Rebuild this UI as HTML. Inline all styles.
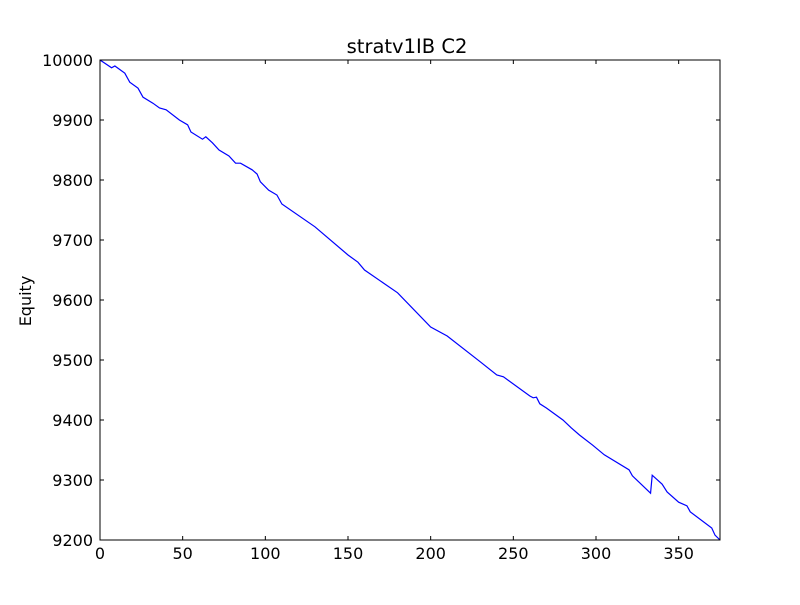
<!DOCTYPE html>
<html><head><meta charset="utf-8"><style>
body{margin:0;background:#fff}
svg text{font-family:"DejaVu Sans","Liberation Sans",sans-serif;font-size:16px;fill:#000}
</style></head><body>
<svg id="chart" width="800" height="600">
<rect width="800" height="600" fill="#fff"/>
<text x="407" y="53" text-anchor="middle" style="font-size:19.5px">stratv1IB C2</text>
<text transform="translate(31,301) rotate(-90)" text-anchor="middle">Equity</text>
<g id="ticks"></g>
<polyline id="line" fill="none" stroke="#0000ff" stroke-width="1.2"/>
<rect x="100" y="60" width="620" height="480" fill="none" stroke="#000" stroke-width="1"/>
</svg>
<script>
const xs=[0,7,9,15,18,23,26,32,36,40,48,53,55,62,64,68,72,78,82,85,92,95,97,102,107,110,130,150,156,160,180,200,210,230,240,244,260,262,264,266,270,280,285,290,298,305,320,322,333,334,340,343,350,355,357,370,372,375];
const equity=[10000,9987,9990,9978,9963,9953,9938,9928,9920,9917,9900,9892,9880,9868,9872,9862,9850,9840,9828,9828,9817,9810,9797,9783,9775,9760,9722,9675,9663,9650,9612,9555,9540,9497,9475,9472,9440,9437,9438,9427,9420,9400,9387,9375,9358,9342,9317,9307,9278,9308,9293,9280,9263,9257,9247,9220,9208,9200];
const xTicks=[0,50,100,150,200,250,300,350];
const yTicks=[9200,9300,9400,9500,9600,9700,9800,9900,10000];
const X=v=>100+v/375*620, Y=v=>540-(v-9200)/800*480;
const ns='http://www.w3.org/2000/svg', g=document.getElementById('ticks');
function mk(t,a){const e=document.createElementNS(ns,t);for(const k in a)e.setAttribute(k,a[k]);g.appendChild(e);return e;}
xTicks.forEach(v=>{const x=X(v);
 mk('line',{x1:x,x2:x,y1:540,y2:536,stroke:'#000'});mk('line',{x1:x,x2:x,y1:60,y2:64,stroke:'#000'});
 const t=mk('text',{x:x,y:559,'text-anchor':'middle'});t.textContent=v;
 
 });
yTicks.forEach(v=>{const y=Y(v);
 mk('line',{x1:100,x2:104,y1:y,y2:y,stroke:'#000'});mk('line',{x1:716,x2:720,y1:y,y2:y,stroke:'#000'});
 const t=mk('text',{x:93,y:y+6,'text-anchor':'end'});t.textContent=v;
 
 });
document.getElementById('line').setAttribute('points',xs.map((v,i)=>X(v)+','+Y(equity[i])).join(' '));
</script>
</body></html>
